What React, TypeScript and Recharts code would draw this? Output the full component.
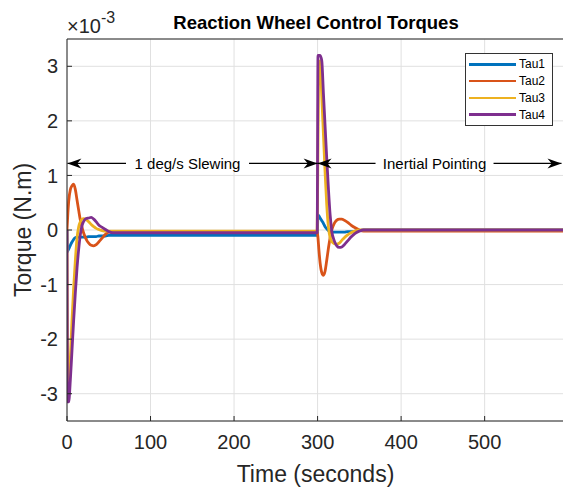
import React from 'react';
import { LineChart, Line, XAxis, YAxis, CartesianGrid, Legend, ReferenceLine, Label } from 'recharts';

// simulation time (s) and wheel torques (x 1e-3 N.m)
const time = [0, 0.5, 1, 2, 4, 6, 8, 10, 12, 14, 16, 18, 20, 23, 26, 29, 32, 35, 38, 42, 46, 50, 55, 60, 80, 150, 250, 299.5,
    300.5, 301.5, 303, 305, 307, 309, 311, 313, 315, 317, 320, 323, 326, 329, 332, 336, 340, 345, 350, 355, 360, 380, 450, 595];

const tau1 = [0, -0.40, -0.38, -0.35, -0.28, -0.22, -0.17, -0.14, -0.13, -0.13, -0.13, -0.13, -0.13, -0.13, -0.12, -0.12, -0.12, -0.12, -0.11, -0.11, -0.11, -0.10, -0.10, -0.10, -0.10, -0.10, -0.10, -0.10,
    0.27, 0.26, 0.22, 0.17, 0.12, 0.06, 0.02, -0.01, -0.03, -0.04, -0.04, -0.04, -0.04, -0.04, -0.04, -0.03, -0.03, -0.02, -0.01, 0, 0, 0, 0, 0];

const tau2 = [0, 0.15, 0.30, 0.52, 0.74, 0.81, 0.84, 0.74, 0.55, 0.36, 0.18, 0.05, -0.06, -0.17, -0.24, -0.28, -0.29, -0.27, -0.22, -0.15, -0.08, -0.04, -0.03, -0.03, -0.03, -0.03, -0.03, -0.03,
    -0.15, -0.35, -0.60, -0.78, -0.83, -0.75, -0.55, -0.33, -0.14, 0, 0.12, 0.18, 0.20, 0.20, 0.18, 0.14, 0.09, 0.04, 0, -0.02, -0.02, -0.02, -0.02, -0.02];

const tau3 = [0, -2.0, -2.9, -3.05, -2.35, -1.65, -1.05, -0.55, -0.15, 0.06, 0.15, 0.20, 0.21, 0.19, 0.15, 0.10, 0.06, 0.03, 0.01, -0.01, -0.02, -0.02, -0.02, -0.02, -0.02, -0.02, -0.02, -0.02,
    1.6, 3.05, 3.1, 2.45, 1.75, 1.05, 0.45, 0.05, -0.14, -0.21, -0.25, -0.26, -0.24, -0.19, -0.14, -0.09, -0.05, -0.02, 0, 0, 0, 0, 0, 0];

const tau4 = [0, -3.1, -3.15, -3.15, -2.75, -2.2, -1.65, -1.15, -0.7, -0.35, -0.08, 0.08, 0.16, 0.21, 0.22, 0.23, 0.20, 0.15, 0.09, 0.05, 0.01, -0.03, -0.05, -0.05, -0.05, -0.05, -0.05, -0.05,
    3.2, 3.2, 3.2, 3.1, 2.5, 1.9, 1.3, 0.75, 0.28, -0.02, -0.2, -0.29, -0.32, -0.31, -0.27, -0.2, -0.13, -0.06, -0.02, 0, 0, 0, 0, 0];

const seriesNames = ['Tau1', 'Tau2', 'Tau3', 'Tau4'];
const seriesColors = ['#0072BD', '#D95319', '#EDB120', '#7E2F8E'];

const xTicks = [0, 100, 200, 300, 400, 500];
const yTicks = [-3, -2, -1, 0, 1, 2, 3];

// mission phases marked with double arrows
const phaseLabels = ['1 deg/s Slewing', 'Inertial Pointing'];
const phaseStart = [0.5, 300];
const phaseEnd = [300, 592];
const phaseLevel = 1.22;

const data = time.map((t, i) => ({ t, Tau1: tau1[i], Tau2: tau2[i], Tau3: tau3[i], Tau4: tau4[i] }));

const FONT = '"Liberation Sans", Arial, Helvetica, sans-serif';
const AXIS = '#262626';

const arrowHead = (x: number, y: number, dir: number) => {
    const L = 14, W = 5;
    return `${x},${y} ${x - dir * L},${y - W} ${x - dir * L * 0.7},${y} ${x - dir * L},${y + W}`;
};

const PhaseArrow = (props: any) => {
    const { x1, y1, x2, text, gap } = props;
    const cx = (x1 + x2) / 2 - 5;
    return (
        <g>
            <line x1={x1} y1={y1} x2={cx - gap / 2} y2={y1} stroke='#000' strokeWidth={1.3} />
            <line x1={cx + gap / 2} y1={y1} x2={x2} y2={y1} stroke='#000' strokeWidth={1.3} />
            <polygon points={arrowHead(x1, y1, -1)} fill='#000' />
            <polygon points={arrowHead(x2, y1, 1)} fill='#000' />
            <text x={cx} y={y1} dy='0.35em' textAnchor='middle' fontSize={15} fontFamily={FONT} fill='#000'>{text}</text>
        </g>
    );
};

const renderLegend = (props: any) => {
    const { payload } = props;
    return (
        <div style={{ border: '1px solid #333', background: '#fff', padding: '2px 0', fontFamily: FONT, fontSize: 12, color: '#000', boxSizing: 'border-box', width: 88 }}>
            {(payload || []).map((entry: any) => (
                <div key={entry.value} style={{ display: 'flex', alignItems: 'center', height: 16.8 }}>
                    <span style={{ display: 'inline-block', width: 47, height: 2.6, marginLeft: 3, background: entry.color }} />
                    <span style={{ marginLeft: 3 }}>{entry.value}</span>
                </div>
            ))}
        </div>
    );
};

export default function App() {
    const tickStyle = { fill: AXIS, fontSize: 20, fontFamily: FONT };
    const gaps = [123, 118];
    return (
        <div style={{ position: 'absolute', left: 0, top: 0, width: 563, height: 489, overflow: 'hidden', background: '#fff' }}>
            <LineChart width={566} height={489} data={data} margin={{ top: 38, right: 0, bottom: 0, left: 0 }}>
                <CartesianGrid stroke='#e0e0e0' strokeWidth={1} />
                <XAxis dataKey='t' type='number' domain={[0, 595]} ticks={xTicks} allowDataOverflow height={68}
                    tickSize={-5} tickMargin={19} tick={tickStyle} stroke={AXIS} axisLine={{ stroke: AXIS }} tickLine={{ stroke: AXIS }}>
                    <Label value='Time (seconds)' position='insideBottom' offset={7} style={{ fill: AXIS, fontSize: 23, fontFamily: FONT }} />
                </XAxis>
                <XAxis xAxisId='top' orientation='top' type='number' domain={[0, 595]} ticks={xTicks} allowDataOverflow height={1}
                    tickSize={-5} tick={false} axisLine={{ stroke: AXIS }} tickLine={{ stroke: AXIS }} />
                <YAxis type='number' domain={[-3.5, 3.5]} ticks={yTicks} allowDataOverflow width={67}
                    tickSize={-5} tickMargin={14} tick={tickStyle} axisLine={{ stroke: AXIS }} tickLine={{ stroke: AXIS }}>
                    <Label value='Torque (N.m)' angle={-90} position='insideLeft' offset={23}
                        style={{ textAnchor: 'middle', fill: AXIS, fontSize: 23, fontFamily: FONT }} />
                </YAxis>
                <YAxis yAxisId='right' orientation='right' type='number' domain={[-3.5, 3.5]} ticks={yTicks} allowDataOverflow width={2}
                    tickSize={-5} tick={false} axisLine={{ stroke: AXIS }} tickLine={{ stroke: AXIS }} />
                {seriesNames.map((name, i) => (
                    <Line key={name} dataKey={name} name={name} type='monotone' stroke={seriesColors[i]} strokeWidth={2.8}
                        dot={false} isAnimationActive={false} strokeLinejoin='round' />
                ))}
                {phaseLabels.map((label, i) => (
                    <ReferenceLine key={label} segment={[{ x: phaseStart[i], y: phaseLevel }, { x: phaseEnd[i], y: phaseLevel }]}
                        ifOverflow='visible' shape={(p: any) => <PhaseArrow {...p} text={label} gap={gaps[i]} />} />
                ))}
                <Legend layout='horizontal' verticalAlign='middle' align='center' content={renderLegend}
                    wrapperStyle={{ position: 'absolute', top: 53, left: 465, width: 88, height: 'auto' }} />
            </LineChart>
            <svg width={563} height={40} style={{ position: 'absolute', left: 0, top: 0, pointerEvents: 'none' }}>
                <text x={316} y={29} textAnchor='middle' fontSize={18.5} fontWeight='bold' fontFamily={FONT} fill='#000'>
                    Reaction Wheel Control Torques
                </text>
                <text x={67} y={33} fontSize={20} fontFamily={FONT} fill={AXIS}>
                    ×10<tspan dy={-10} fontSize={16}>-3</tspan>
                </text>
            </svg>
        </div>
    );
}
